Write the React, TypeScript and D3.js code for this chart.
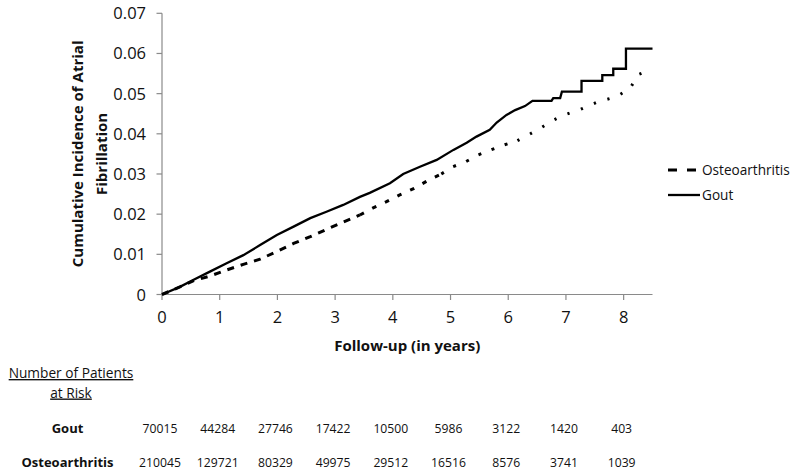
import React from "react";
import * as d3 from "d3";

// ---- data ----
const goutTimes = [0, 0.31, 0.54, 0.83, 1.12, 1.41, 1.7, 1.99, 2.28, 2.57, 2.85, 3.14, 3.43, 3.6, 3.95, 4.18, 4.47, 4.76, 5.05, 5.28, 5.45, 5.68, 5.8, 5.97, 6.12, 6.29, 6.42, 6.75, 6.78, 6.9, 6.93, 7.27, 7.27, 7.63, 7.63, 7.82, 7.82, 8.04, 8.04, 8.5];
const goutValues = [0, 0.0019, 0.0036, 0.0057, 0.0078, 0.0098, 0.0123, 0.0148, 0.0169, 0.019, 0.0206, 0.0223, 0.0243, 0.0253, 0.0277, 0.03, 0.0318, 0.0335, 0.036, 0.0378, 0.0393, 0.041, 0.0428, 0.0447, 0.0459, 0.0469, 0.0482, 0.0482, 0.0489, 0.0489, 0.0505, 0.0505, 0.0532, 0.0532, 0.0546, 0.0546, 0.0562, 0.0562, 0.0612, 0.0612];

const oaTimes = [0, 0.31, 0.54, 0.83, 1.12, 1.41, 1.7, 1.99, 2.28, 2.57, 2.85, 3.14, 3.43, 3.65, 3.89, 4.12, 4.37, 4.6, 4.84, 5.04, 5.27, 5.47, 5.68, 5.92, 6.16, 6.37, 6.57, 6.77, 6.97, 7.24, 7.56, 7.87, 8.11, 8.26, 8.5];
const oaValues = [0, 0.0019, 0.0034, 0.0046, 0.0061, 0.0075, 0.0088, 0.0107, 0.0127, 0.0144, 0.0162, 0.018, 0.0198, 0.0215, 0.0231, 0.0248, 0.0264, 0.0283, 0.03, 0.0318, 0.0331, 0.0347, 0.0359, 0.0372, 0.0383, 0.0399, 0.0415, 0.0433, 0.0447, 0.046, 0.048, 0.0492, 0.0513, 0.0548, 0.0561];

const xTicks = [0, 1, 2, 3, 4, 5, 6, 7, 8];
const yTicks = [0, 0.01, 0.02, 0.03, 0.04, 0.05, 0.06, 0.07];

const riskGout = ["70015", "44284", "27746", "17422", "10500", "5986", "3122", "1420", "403"];
const riskOA = ["210045", "129721", "80329", "49975", "29512", "16516", "8576", "3741", "1039"];

const seriesNames = ["Osteoarthritis", "Gout"];

// dash style changes along the osteoarthritis curve (style only)
const oaDashBreaks = [0, 3.43, 4.84, 6.16, 8.5];
const oaDashes = ["7 7", "4.5 9.5", "3 11", "2.2 12"];

const W = 800;
const H = 476;
const FONT = "'Open Sans', sans-serif";
const AXIS = "#8a8a8a";

export default function App() {
  const x = d3.scaleLinear().domain([0, 8.5]).range([162, 652.5]);
  const y = d3.scaleLinear().domain([0, 0.07]).range([294.5, 13.3]);

  const line = d3
    .line<[number, number]>()
    .x((d) => x(d[0]))
    .y((d) => y(d[1]));

  const goutPts: [number, number][] = goutTimes.map((t, i) => [t, goutValues[i]]);
  const oaPts: [number, number][] = oaTimes.map((t, i) => [t, oaValues[i]]);

  const oaSegs = oaDashes.map((dash, i) => {
    const a = oaDashBreaks[i];
    const b = oaDashBreaks[i + 1];
    return { dash, pts: oaPts.filter((p) => p[0] >= a - 1e-9 && p[0] <= b + 1e-9) };
  });

  const [x0, x1] = x.range();
  const [y0, y1] = y.range();

  return (
    <svg
      width={W}
      height={H}
      style={{ position: "absolute", left: 0, top: 0, background: "#fff" }}
      fontFamily={FONT}
    >
      <rect x={0} y={0} width={W} height={H} fill="#fff" />
      {/* axes */}
      <line x1={x0} x2={x0} y1={y1} y2={y0} stroke={AXIS} strokeWidth={1.2} />
      <line x1={x0} x2={x1} y1={y0} y2={y0} stroke={AXIS} strokeWidth={1.2} />
      {yTicks.map((t) => (
        <g key={"y" + t}>
          <line x1={x0 - 5.5} x2={x0} y1={y(t)} y2={y(t)} stroke={AXIS} strokeWidth={1.2} />
          <text x={146} y={y(t) + 6} textAnchor="end" fontSize={16.5} fill="#111">
            {t === 0 ? "0" : t.toFixed(2)}
          </text>
        </g>
      ))}
      {xTicks.map((t) => (
        <g key={"x" + t}>
          <line x1={x(t)} x2={x(t)} y1={y0} y2={y0 + 5.5} stroke={AXIS} strokeWidth={1.2} />
          <text x={x(t)} y={323} textAnchor="middle" fontSize={16.5} fill="#111">
            {t}
          </text>
        </g>
      ))}

      {/* axis titles */}
      <text
        transform={`translate(83, ${(y0 + y1) / 2}) rotate(-90)`}
        textAnchor="middle"
        fontSize={15}
        fontWeight="bold"
        fill="#111"
      >
        Cumulative Incidence of Atrial
      </text>
      <text
        transform={`translate(107, ${(y0 + y1) / 2}) rotate(-90)`}
        textAnchor="middle"
        fontSize={15}
        fontWeight="bold"
        fill="#111"
      >
        Fibrillation
      </text>
      <text x={(x0 + x1) / 2} y={351} textAnchor="middle" fontSize={15} fontWeight="bold" fill="#111">
        Follow-up (in years)
      </text>

      {/* series */}
      {oaSegs.map((s, i) => (
        <path
          key={"oa" + i}
          d={line(s.pts) || ""}
          fill="none"
          stroke="#000"
          strokeWidth={3}
          strokeDasharray={s.dash}
        />
      ))}
      <path d={line(goutPts) || ""} fill="none" stroke="#000" strokeWidth={2.3} strokeLinejoin="miter" />

      {/* legend */}
      <line x1={668} x2={696} y1={170} y2={170} stroke="#000" strokeWidth={3} strokeDasharray="9 10" />
      <text x={702} y={175} fontSize={13.6} fill="#111">
        {seriesNames[0]}
      </text>
      <line x1={668} x2={700} y1={195} y2={195} stroke="#000" strokeWidth={2.3} />
      <text x={702} y={200} fontSize={13.6} fill="#111">
        {seriesNames[1]}
      </text>

      {/* risk table */}
      <text x={71} y={378} textAnchor="middle" fontSize={13.7} fill="#111" textDecoration="underline">
        Number of Patients
      </text>
      <text x={71} y={397.5} textAnchor="middle" fontSize={13.7} fill="#111" textDecoration="underline">
        at Risk
      </text>
      <text x={67.5} y={433} textAnchor="middle" fontSize={13} fontWeight="bold" fill="#111">
        {seriesNames[1]}
      </text>
      <text x={67.5} y={467} textAnchor="middle" fontSize={13} fontWeight="bold" fill="#111">
        {seriesNames[0]}
      </text>
      {riskGout.map((v, i) => (
        <text key={"rg" + i} x={x(xTicks[i]) - 2} y={433} textAnchor="middle" fontSize={12.2} fill="#111">
          {v}
        </text>
      ))}
      {riskOA.map((v, i) => (
        <text key={"ro" + i} x={x(xTicks[i]) - 2} y={467} textAnchor="middle" fontSize={12.2} fill="#111">
          {v}
        </text>
      ))}
    </svg>
  );
}
